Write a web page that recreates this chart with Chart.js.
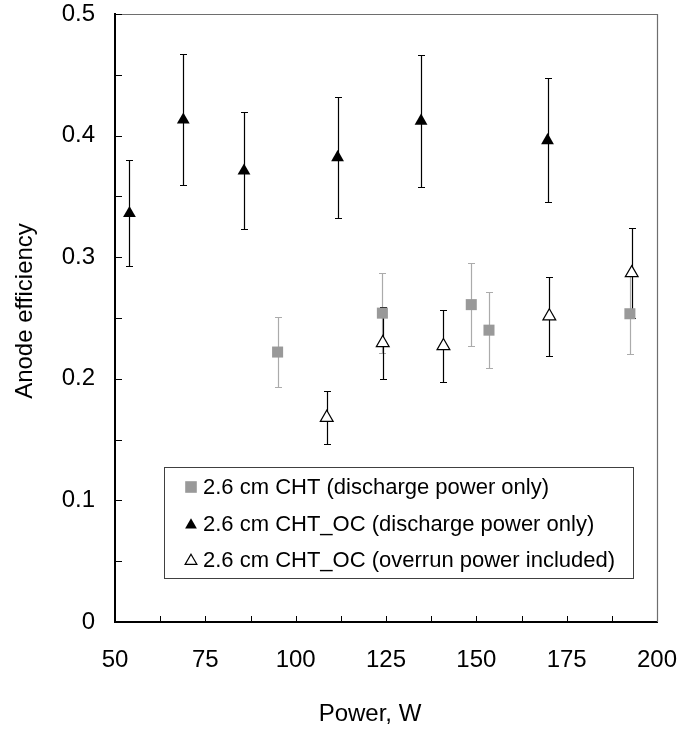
<!DOCTYPE html>
<html>
<head>
<meta charset="utf-8">
<script src="https://cdn.jsdelivr.net/npm/chart.js@4.4.1/dist/chart.umd.min.js"></script>
<style>
html,body{margin:0;padding:0;background:#ffffff;}
#wrap{width:681px;height:731px;position:relative;}
canvas{display:block;}
</style>
</head>
<body>
<div id="wrap"><canvas id="c" width="681" height="731"></canvas></div>
<script>
// ---- data ----
const seriesLabels = [
  '2.6 cm CHT (discharge power only)',
  '2.6 cm CHT_OC (discharge power only)',
  '2.6 cm CHT_OC (overrun power included)'
];
const powerCHT = [95.0, 124.0, 148.6, 153.5, 192.5];
const effCHT   = [0.222, 0.254, 0.261, 0.240, 0.2535];
const errCHT   = [0.0285, 0.033, 0.034, 0.031, 0.033];

const powerOC = [54.0, 68.9, 85.7, 111.6, 134.7, 169.7];
const effOC   = [0.336, 0.413, 0.371, 0.382, 0.412, 0.396];
const errOC   = [0.0436, 0.054, 0.048, 0.050, 0.054, 0.051];

const powerOCtot = [108.6, 124.1, 140.9, 170.2, 193.0];
const effOCtot   = [0.168, 0.2295, 0.227, 0.2515, 0.287];
const errOCtot   = [0.0217, 0.0295, 0.0293, 0.0326, 0.037];

const xTitle = 'Power, W';
const yTitle = 'Anode efficiency';
const xMin = 50, xMax = 200, xStep = 12.5, xLabelStep = 25;
const yMin = 0, yMax = 0.5, yStep = 0.05, yLabelStep = 0.1;

// ---- styling ----
const FONT = "'Liberation Sans', Arial, Helvetica, sans-serif";

function pts(xs, ys) { return xs.map((x, i) => ({ x: x, y: ys[i] })); }

const errorBarPlugin = {
  id: 'errorBars',
  beforeDatasetsDraw(chart) {
    const ctx = chart.ctx;
    const xs = chart.scales.x, ys = chart.scales.y;
    chart.data.datasets.forEach((ds) => {
      if (!ds.errors) return;
      ctx.save();
      ctx.strokeStyle = ds.errorColor;
      ctx.lineWidth = 1.2;
      ds.data.forEach((p, i) => {
        const e = ds.errors[i];
        const px = Math.round(xs.getPixelForValue(p.x)) + 0.5;
        const t = Math.round(ys.getPixelForValue(p.y + e)) + 0.5;
        const b = Math.round(ys.getPixelForValue(p.y - e)) + 0.5;
        ctx.beginPath();
        ctx.moveTo(px, t); ctx.lineTo(px, b);
        ctx.moveTo(px - 3.5, t); ctx.lineTo(px + 3.5, t);
        ctx.moveTo(px - 3.5, b); ctx.lineTo(px + 3.5, b);
        ctx.stroke();
      });
      ctx.restore();
    });
  }
};

const framePlugin = {
  id: 'frame',
  afterDraw(chart) {
    const ctx = chart.ctx;
    const a = chart.chartArea;
    const xs = chart.scales.x, ys = chart.scales.y;
    ctx.save();
    // top and right frame
    ctx.strokeStyle = '#6e6e6e';
    ctx.lineWidth = 1.2;
    ctx.beginPath();
    ctx.moveTo(a.left, a.top + 0.5); ctx.lineTo(a.right + 0.5, a.top + 0.5);
    ctx.lineTo(a.right + 0.5, a.bottom);
    ctx.stroke();
    // inward tick marks
    ctx.strokeStyle = '#000';
    ctx.lineWidth = 1;
    ctx.beginPath();
    xs.ticks.forEach(t => {
      const px = Math.round(xs.getPixelForValue(t.value)) + 0.5;
      if (t.value <= xMin || t.value >= xMax) return;
      ctx.moveTo(px, a.bottom); ctx.lineTo(px, a.bottom - 6);
    });
    ys.ticks.forEach(t => {
      const py = Math.round(ys.getPixelForValue(t.value)) + 0.5;
      if (t.value <= yMin + 1e-9) return;
      ctx.moveTo(a.left, py); ctx.lineTo(a.left + 7, py);
    });
    ctx.stroke();
    ctx.restore();
  }
};

const legendPlugin = {
  id: 'boxLegend',
  afterDraw(chart) {
    const ctx = chart.ctx;
    const a = chart.chartArea;
    const bx = a.left + 49, by = a.top + 453, bw = 469, bh = 111;
    ctx.save();
    ctx.fillStyle = '#ffffff';
    ctx.fillRect(bx, by, bw, bh);
    ctx.strokeStyle = '#404040';
    ctx.lineWidth = 1;
    ctx.strokeRect(bx + 0.5, by + 0.5, bw, bh);
    const rows = [by + 20, by + 57, by + 93];
    ctx.font = '22px ' + FONT;
    ctx.textBaseline = 'middle';
    ctx.textAlign = 'left';
    chart.data.datasets.forEach((ds, i) => {
      ctx.fillStyle = ds.backgroundColor;
      ctx.strokeStyle = ds.borderColor;
      ctx.lineWidth = ds.borderWidth || 0;
      const r = ds.pointStyle === 'rect' ? 8.2 : 6.8;
      Chart.helpers.drawPoint(ctx, { pointStyle: ds.pointStyle, radius: r, rotation: 0, borderWidth: ds.borderWidth || 0 }, bx + 27, rows[i] + (ds.pointStyle === 'rect' ? 0 : 1));
      ctx.fillStyle = '#000';
      ctx.fillText(ds.label, bx + 39, rows[i] + 1);
    });
    ctx.restore();
  }
};

const titlePlugin = {
  id: 'axisTitles',
  afterDraw(chart) {
    const ctx = chart.ctx;
    ctx.save();
    ctx.fillStyle = '#000';
    ctx.font = '24px ' + FONT;
    ctx.textAlign = 'center';
    ctx.textBaseline = 'middle';
    ctx.fillText(xTitle, 370, 714);
    ctx.translate(25, 311);
    ctx.rotate(-Math.PI / 2);
    ctx.fillText(yTitle, 0, 0);
    ctx.restore();
  }
};

new Chart(document.getElementById('c'), {
  type: 'scatter',
  data: {
    datasets: [
      {
        label: seriesLabels[0],
        data: pts(powerCHT, effCHT),
        errors: errCHT,
        errorColor: '#ababab',
        pointStyle: 'rect',
        pointRadius: 7.8,
        pointHoverRadius: 7.8,
        backgroundColor: '#999999',
        borderColor: '#999999',
        borderWidth: 0,
        showLine: false
      },
      {
        label: seriesLabels[1],
        data: pts(powerOC, effOC),
        errors: errOC,
        errorColor: '#000000',
        pointStyle: 'triangle',
        pointRadius: 7.4,
        pointHoverRadius: 7.4,
        backgroundColor: '#000000',
        borderColor: '#000000',
        borderWidth: 0,
        showLine: false
      },
      {
        label: seriesLabels[2],
        data: pts(powerOCtot, effOCtot),
        errors: errOCtot,
        errorColor: '#000000',
        pointStyle: 'triangle',
        pointRadius: 7.4,
        pointHoverRadius: 7.4,
        backgroundColor: '#ffffff',
        borderColor: '#000000',
        borderWidth: 1.2,
        showLine: false
      }
    ]
  },
  options: {
    responsive: false,
    animation: false,
    devicePixelRatio: 1,
    layout: { padding: { left: 0, right: 24, top: 14, bottom: 0 } },
    plugins: {
      legend: { display: false },
      tooltip: { enabled: false },
      title: { display: false }
    },
    scales: {
      x: {
        type: 'linear',
        position: 'bottom',
        min: xMin, max: xMax,
        afterFit(s) { s.height = 109; s.paddingLeft = 0; s.paddingRight = 0; },
        grid: { display: false, drawTicks: false },
        border: { display: true, color: '#000000', width: 2 },
        ticks: {
          stepSize: xStep,
          autoSkip: false,
          maxRotation: 0,
          padding: 24,
          color: '#000000',
          font: { family: FONT, size: 24 },
          callback(v) {
            const r = v / xLabelStep;
            return Math.abs(r - Math.round(r)) < 1e-6 ? String(Math.round(v)) : '';
          }
        }
      },
      y: {
        type: 'linear',
        position: 'left',
        min: yMin, max: yMax,
        afterFit(s) { s.width = 115; s.paddingTop = 0; s.paddingBottom = 0; },
        grid: { display: false, drawTicks: false },
        border: { display: true, color: '#000000', width: 2 },
        ticks: {
          stepSize: yStep,
          autoSkip: false,
          padding: 20,
          color: '#000000',
          font: { family: FONT, size: 24 },
          callback(v) {
            const r = v / yLabelStep;
            if (Math.abs(r - Math.round(r)) > 1e-6) return '';
            const n = Math.round(r) * yLabelStep;
            return n === 0 ? '0' : n.toFixed(1);
          }
        }
      }
    }
  },
  plugins: [errorBarPlugin, framePlugin, legendPlugin, titlePlugin]
});
</script>
</body>
</html>
